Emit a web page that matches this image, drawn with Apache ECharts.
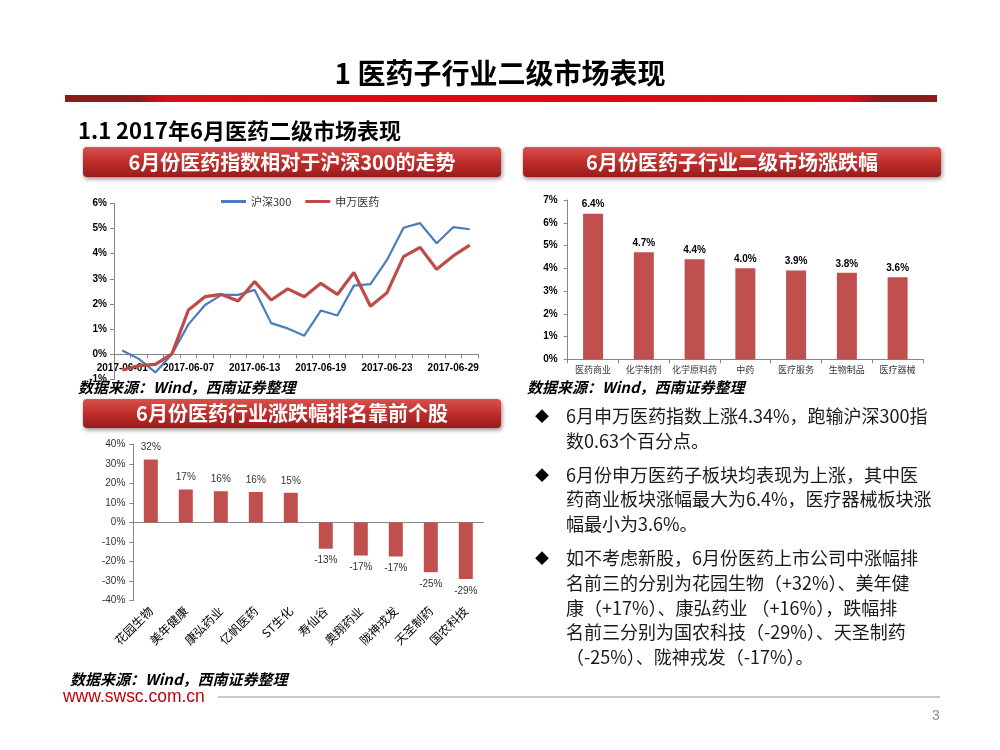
<!DOCTYPE html>
<html>
<head>
<meta charset="utf-8">
<script src="https://cdn.jsdelivr.net/npm/echarts@6/dist/echarts.min.js"></script>
<style>
html,body{margin:0;padding:0;background:#fff;}
#c{width:1000px;height:750px;}
</style>
</head>
<body>
<div id="c"></div>
<script>
// ---- data ----
const dates = ['2017-06-01','2017-06-02','2017-06-05','2017-06-06','2017-06-07','2017-06-08','2017-06-09','2017-06-12','2017-06-13','2017-06-14','2017-06-15','2017-06-16','2017-06-19','2017-06-20','2017-06-21','2017-06-22','2017-06-23','2017-06-26','2017-06-27','2017-06-28','2017-06-29','2017-06-30'];
const hs300 = [0.15,-0.18,-0.72,0.0,1.19,1.96,2.36,2.36,2.56,1.24,1.03,0.74,1.74,1.54,2.73,2.79,3.75,5.03,5.21,4.41,5.05,4.97];
const swyy  = [-0.62,-0.45,-0.40,0.02,1.76,2.29,2.38,2.12,2.89,2.16,2.60,2.29,2.82,2.38,3.25,1.91,2.45,3.88,4.25,3.38,3.91,4.34];
const lineTicks = [-1,0,1,2,3,4,5,6];

const sectorNames = ['医药商业','化学制剂','化学原料药','中药','医疗服务','生物制品','医疗器械'];
const sectorValues = [6.4,4.7,4.4,4.0,3.9,3.8,3.6];

const stockNames = ['花园生物','美年健康','康弘药业','亿帆医药','ST生化','寿仙谷','奥翔药业','陇神戎发','天圣制药','国农科技'];
const stockValues = [32.2,16.9,16.0,15.6,15.2,-13.4,-16.9,-17.4,-25.4,-28.9];

const titleText = '1 医药子行业二级市场表现';
const subTitleText = '1.1 2017年6月医药二级市场表现';
const headers = ['6月份医药指数相对于沪深300的走势','6月份医药子行业二级市场涨跌幅','6月份医药行业涨跌幅排名靠前个股'];
const sourceText = '数据来源：Wind，西南证券整理';
const bullets = [
  ['6月申万医药指数上涨4.34%，跑输沪深300指','数0.63个百分点。'],
  ['6月份申万医药子板块均表现为上涨，其中医','药商业板块涨幅最大为6.4%，医疗器械板块涨','幅最小为3.6%。'],
  ['如不考虑新股，6月份医药上市公司中涨幅排','名前三的分别为花园生物（+32%）、美年健','康（+17%）、康弘药业 （+16%），跌幅排','名前三分别为国农科技（-29%）、天圣制药','（-25%）、陇神戎发（-17%）。']
];

// ---- styles ----
const CJK = '"Noto Sans CJK SC"';
const NUM = '"Liberation Sans", "Noto Sans CJK SC"';
const axisGrey = '#868686';
const blue = '#4A7EBB';
const red = '#BE4B48';
const barRed = '#C0504D';

const lineGrid = {left:114, top:203.3, width:364, height:176.2};
// x-axis of the line chart sits on the 0% line (one unit above the -1% bottom)
const lineZeroOffset = -lineGrid.height / (lineTicks[lineTicks.length-1] - lineTicks[0]) * (0 - lineTicks[0]);

function headerBox(x, y, w, h, text) {
  return {
    type: 'group',
    children: [
      {type:'rect', shape:{x:x,y:y,width:w,height:h,r:4},
       style:{fill:{type:'linear',x:0,y:0,x2:0,y2:1,colorStops:[{offset:0,color:'#d9524d'},{offset:0.45,color:'#c2302d'},{offset:1,color:'#9a1b1b'}]},
              shadowBlur:4, shadowOffsetY:2, shadowOffsetX:1, shadowColor:'rgba(0,0,0,0.45)'}},
      {type:'text', x:x+w/2, y:y+h/2, style:{text:text, font:'bold 20px ' + CJK, fill:'#fff', align:'center', verticalAlign:'middle'}}
    ]
  };
}

const graphics = [];
graphics.push({type:'text', x:500, y:73, style:{text:titleText, font:'bold 28px ' + CJK, fill:'#000', align:'center', verticalAlign:'middle'}});
graphics.push({type:'rect', shape:{x:65,y:95,width:872,height:7},
  style:{fill:{type:'linear',x:0,y:0,x2:1,y2:0,colorStops:[
    {offset:0,color:'#8e1b1b'},{offset:0.085,color:'#8e1b1b'},{offset:0.115,color:'#d60f1c'},
    {offset:0.5,color:'#e30613'},{offset:0.9,color:'#d60f1c'},{offset:0.93,color:'#8e1b1b'},{offset:1,color:'#8e1b1b'}]}}});
graphics.push({type:'text', x:78, y:131, style:{text:subTitleText, font:'bold 22px ' + CJK, fill:'#000', verticalAlign:'middle'}});
graphics.push(headerBox(83,147,418,30,headers[0]));
graphics.push(headerBox(523,147,418,30,headers[1]));
graphics.push(headerBox(83,399,418,29,headers[2]));

const srcFont = 'italic bold 15px ' + CJK;
graphics.push({type:'text', x:78, y:387, style:{text:sourceText, font:srcFont, fill:'#000', verticalAlign:'middle'}});
graphics.push({type:'text', x:527, y:387, style:{text:sourceText, font:srcFont, fill:'#000', verticalAlign:'middle'}});
graphics.push({type:'text', x:70, y:679, style:{text:sourceText, font:srcFont, fill:'#000', verticalAlign:'middle'}});

const lineY = [[416,441],[475,499,524],[558,583,608,632,657]];
bullets.forEach(function(par, i){
  graphics.push({type:'text', x:542, y:lineY[i][0], style:{text:'◆', font:'14px ' + CJK, fill:'#000', align:'center', verticalAlign:'middle'}});
  par.forEach(function(line, j){
    graphics.push({type:'text', x:566, y:lineY[i][j], style:{text:line, font:'18px ' + CJK, fill:'#1a1a1a', verticalAlign:'middle'}});
  });
});

graphics.push({type:'text', x:63, y:697, scaleX:0.92, originX:0, originY:0, style:{text:'www.swsc.com.cn', font:'19px "Liberation Sans"', fill:'#c0000b', verticalAlign:'middle'}});
graphics.push({type:'line', shape:{x1:218,y1:697,x2:940,y2:697}, style:{stroke:'#c8c8c8', lineWidth:2}});
graphics.push({type:'text', x:936, y:716, style:{text:'3', font:'14px "Liberation Sans"', fill:'#8c8c8c', align:'center', verticalAlign:'middle'}});

const chart = echarts.init(document.getElementById('c'), null, {renderer:'canvas'});
chart.setOption({
  backgroundColor:'#fff',
  animation:false,
  legend:{
    data:['沪深300','申万医药'], left:216, top:191, icon:'rect', itemWidth:25, itemHeight:3, itemGap:14,
    textStyle:{fontSize:11, color:'#333', fontFamily:CJK}
  },
  grid:[
    lineGrid,
    {left:567.7, top:200, width:355.3, height:159.3},
    {left:133.3, top:444.3, width:350, height:156.4}
  ],
  xAxis:[
    {gridIndex:0, type:'category', data:dates, boundaryGap:true, position:'bottom', offset:lineZeroOffset,
     axisLine:{onZero:false, lineStyle:{color:axisGrey}},
     axisTick:{show:true, interval:0, length:4, lineStyle:{color:axisGrey}},
     axisLabel:{interval:3, margin:9, fontSize:10, fontWeight:'bold', color:'#000', fontFamily:NUM}},
    {gridIndex:1, type:'category', data:sectorNames,
     axisLine:{onZero:true, lineStyle:{color:axisGrey}},
     axisTick:{show:true, interval:0, length:4, lineStyle:{color:axisGrey}},
     axisLabel:{interval:0, margin:6, fontSize:9, color:'#333', fontFamily:CJK}},
    {gridIndex:2, type:'category', data:stockNames, position:'bottom',
     axisLine:{show:false, onZero:false}, axisTick:{show:false},
     axisLabel:{interval:0, rotate:45, margin:8, fontSize:12, color:'#000', fontFamily:CJK}},
    {gridIndex:2, type:'category', data:stockNames, position:'top',
     axisLine:{show:true, onZero:true, lineStyle:{color:axisGrey}}, axisTick:{show:false}, axisLabel:{show:false}}
  ],
  yAxis:[
    {gridIndex:0, type:'value', min:lineTicks[0], max:lineTicks[lineTicks.length-1], interval:1,
     splitLine:{show:false}, axisLine:{show:true, onZero:false, lineStyle:{color:axisGrey}},
     axisTick:{show:true, length:4, lineStyle:{color:axisGrey}},
     axisLabel:{formatter:'{value}%', margin:7, fontSize:10, fontWeight:'bold', color:'#000', fontFamily:NUM}},
    {gridIndex:1, type:'value', min:0, max:7, interval:1,
     splitLine:{show:false}, axisLine:{show:true, onZero:false, lineStyle:{color:axisGrey}},
     axisTick:{show:true, length:4, lineStyle:{color:axisGrey}},
     axisLabel:{formatter:'{value}%', margin:10, fontSize:10, fontWeight:'bold', color:'#000', fontFamily:NUM}},
    {gridIndex:2, type:'value', min:-40, max:40, interval:10,
     splitLine:{show:false}, axisLine:{show:true, onZero:false, lineStyle:{color:axisGrey}},
     axisTick:{show:true, length:4, lineStyle:{color:axisGrey}},
     axisLabel:{formatter:'{value}%', margin:8, fontSize:10, color:'#333', fontFamily:NUM}}
  ],
  series:[
    {type:'line', name:'沪深300', xAxisIndex:0, yAxisIndex:0, data:hs300, symbol:'none',
     lineStyle:{color:blue, width:2.2}, itemStyle:{color:blue}},
    {type:'line', name:'申万医药', xAxisIndex:0, yAxisIndex:0, data:swyy, symbol:'none',
     lineStyle:{color:red, width:3.2}, itemStyle:{color:red}},
    {type:'bar', xAxisIndex:1, yAxisIndex:1, data:sectorValues, barWidth:20, itemStyle:{color:barRed},
     label:{show:true, position:'top', distance:4, fontSize:10, fontWeight:'bold', color:'#000', fontFamily:NUM,
            formatter:function(p){return p.value.toFixed(1)+'%';}}},
    {type:'bar', xAxisIndex:2, yAxisIndex:2, barWidth:14, itemStyle:{color:barRed},
     data:stockValues.map(function(v){return {value:v, label:{position: v<0 ? 'bottom' : 'top'}};}),
     label:{show:true, distance:7, fontSize:10, color:'#333', fontFamily:NUM,
            formatter:function(p){return Math.round(p.value)+'%';}}}
  ],
  graphic: graphics
});
</script>
</body>
</html>
